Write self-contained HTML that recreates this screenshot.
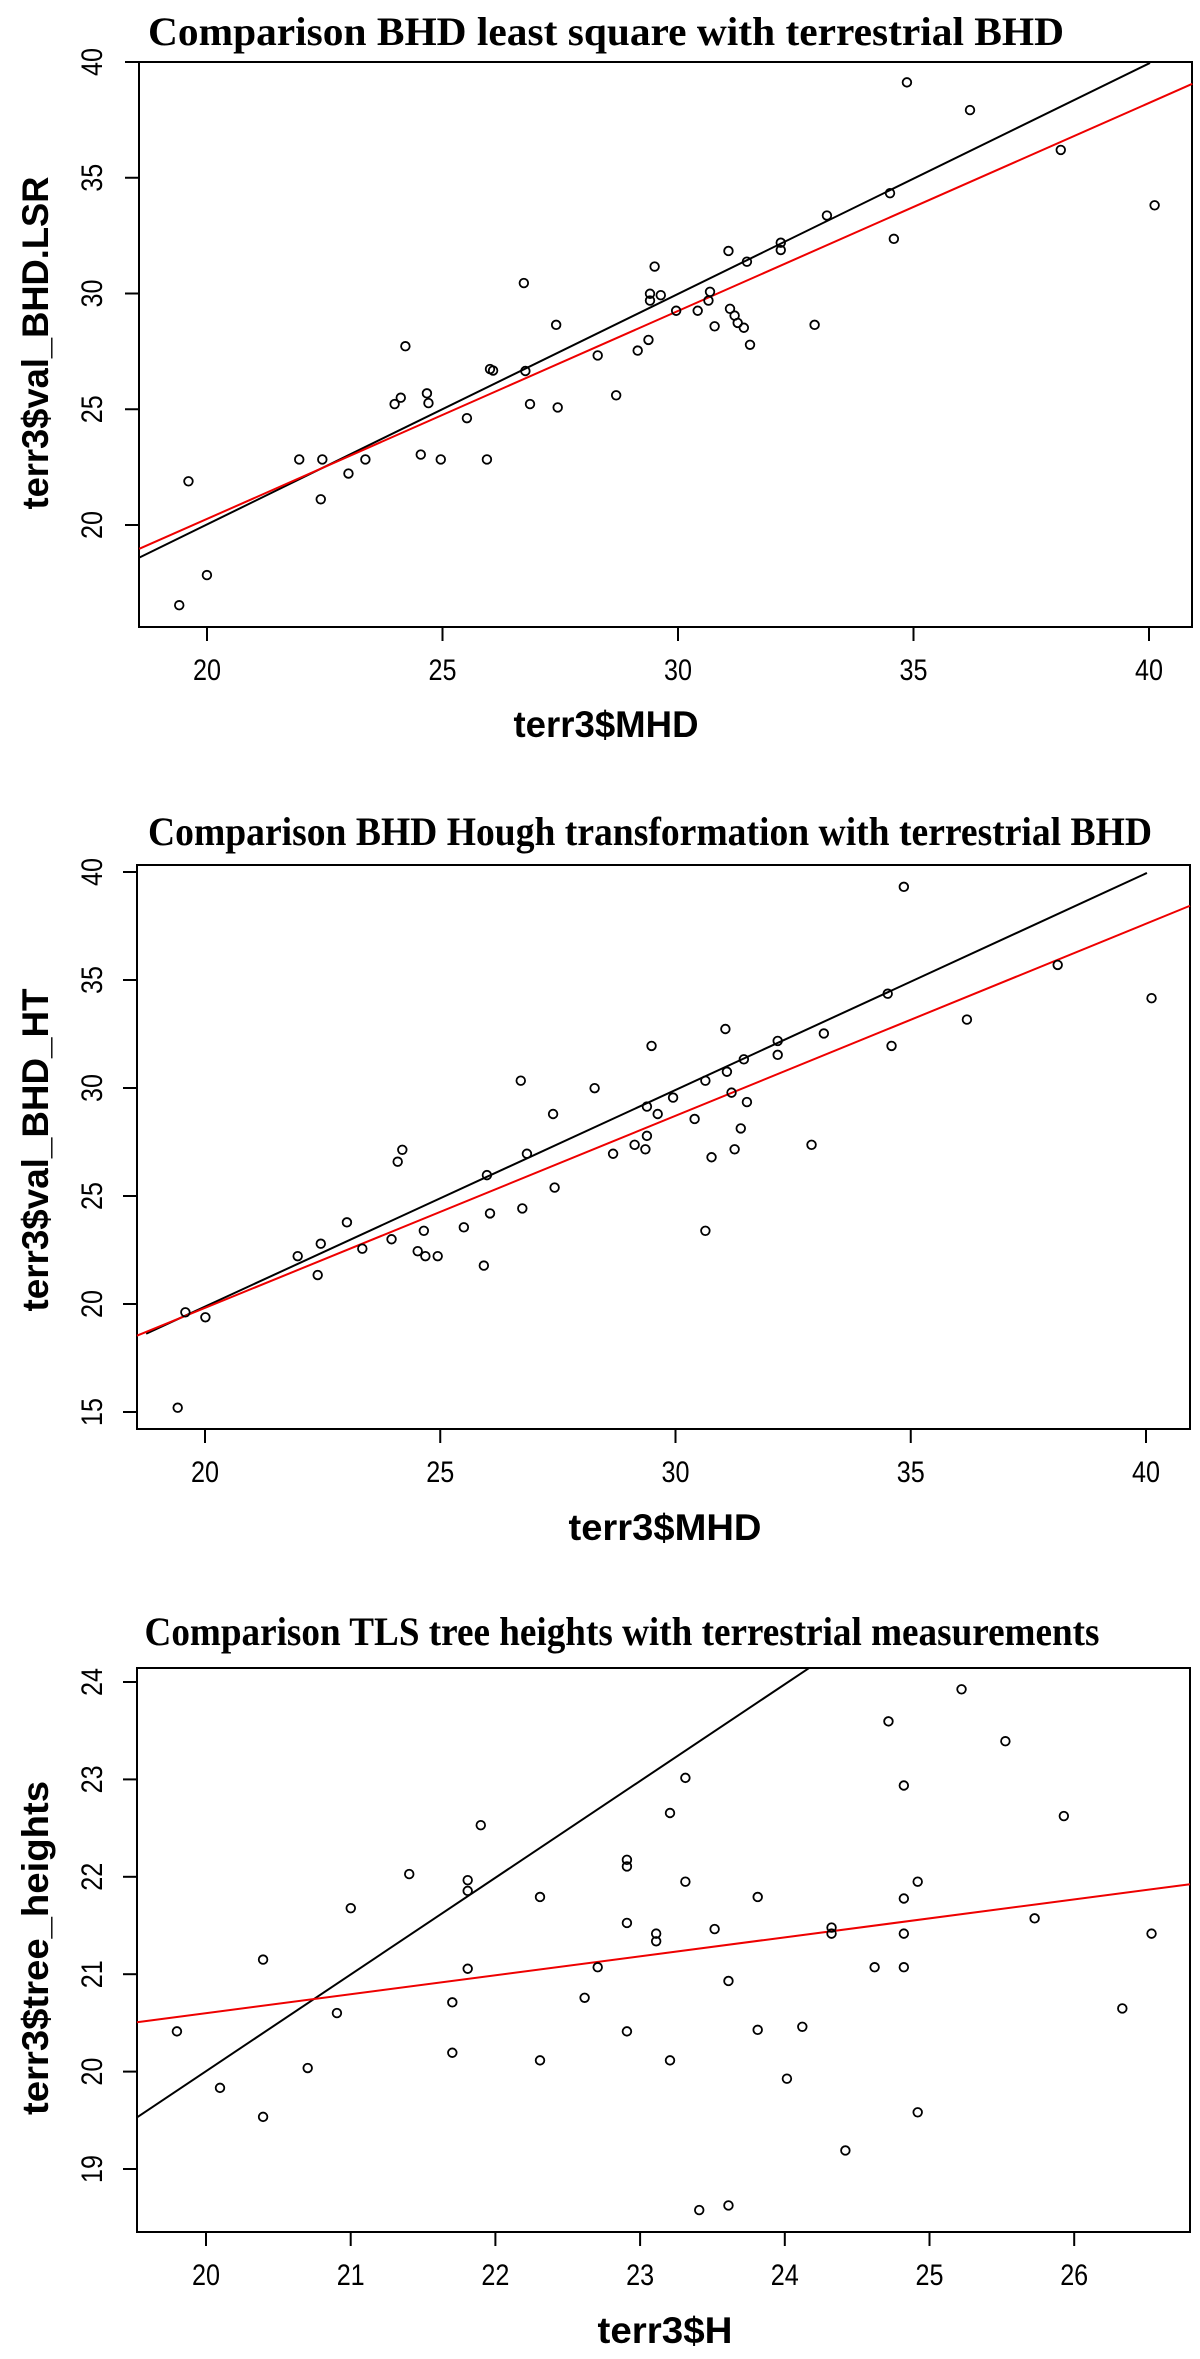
<!DOCTYPE html>
<html><head><meta charset="utf-8"><style>
html,body{margin:0;padding:0;background:#fff;}
svg{display:block;}
.t{font-family:"Liberation Serif",serif;font-weight:bold;font-size:40px;}
.tk{font-family:"Liberation Sans",sans-serif;font-size:30px;}
.al{font-family:"Liberation Sans",sans-serif;font-weight:bold;font-size:37px;}
</style></head><body>
<svg id="s" width="1200" height="2359" viewBox="0 0 1200 2359" xmlns="http://www.w3.org/2000/svg">
<text class="t" x="606" y="45" text-anchor="middle" textLength="916" lengthAdjust="spacingAndGlyphs">Comparison BHD least square with terrestrial BHD</text>
<text class="t" x="650" y="845" text-anchor="middle" textLength="1004" lengthAdjust="spacingAndGlyphs">Comparison BHD Hough transformation with terrestrial BHD</text>
<text class="t" x="622" y="1645" text-anchor="middle" textLength="955" lengthAdjust="spacingAndGlyphs">Comparison TLS tree heights with terrestrial measurements</text>
<text class="al" x="606" y="737" text-anchor="middle" textLength="185" lengthAdjust="spacingAndGlyphs">terr3$MHD</text>
<text class="al" x="665" y="1540" text-anchor="middle" textLength="193" lengthAdjust="spacingAndGlyphs">terr3$MHD</text>
<text class="al" x="665" y="2343" text-anchor="middle" textLength="135" lengthAdjust="spacingAndGlyphs">terr3$H</text>
<text class="al" transform="translate(48,343) rotate(-90)" text-anchor="middle" textLength="333" lengthAdjust="spacingAndGlyphs">terr3$val_BHD.LSR</text>
<text class="al" transform="translate(48,1150) rotate(-90)" text-anchor="middle" textLength="323" lengthAdjust="spacingAndGlyphs">terr3$val_BHD_HT</text>
<text class="al" transform="translate(48,1948) rotate(-90)" text-anchor="middle" textLength="334" lengthAdjust="spacingAndGlyphs">terr3$tree_heights</text>
<g id="g"></g>
</svg>
<script>
var NS="http://www.w3.org/2000/svg",g=document.getElementById("g");
function el(n,a,txt){var e=document.createElementNS(NS,n);for(var k in a)e.setAttribute(k,a[k]);if(txt)e.textContent=txt;g.appendChild(e);return e;}
function plot(P){
 el("rect",{x:P.l,y:P.t,width:P.r-P.l,height:P.b-P.t,fill:"none",stroke:"#000","stroke-width":2});
 P.xt.forEach(function(v){var x=P.x0+(v-P.xv0)*P.xs;
  el("line",{x1:x,y1:P.b,x2:x,y2:P.b+14,stroke:"#000","stroke-width":2});
  el("text",{x:x,y:P.tb,"text-anchor":"middle","class":"tk",textLength:28,lengthAdjust:"spacingAndGlyphs"},String(v));});
 P.yt.forEach(function(v){var y=P.y0-(v-P.yv0)*P.ys;
  el("line",{x1:P.l-14,y1:y,x2:P.l,y2:y,stroke:"#000","stroke-width":2});
  el("text",{transform:"translate(102,"+y+") rotate(-90)","text-anchor":"middle","class":"tk",textLength:28,lengthAdjust:"spacingAndGlyphs"},String(v));});
 P.lines.forEach(function(L){el("line",{x1:L[0]/1.3,y1:P.oy+L[1]/P.fy,x2:L[2]/1.3,y2:P.oy+L[3]/P.fy,stroke:L[4],"stroke-width":2});});
 P.pts.forEach(function(p){el("circle",{cx:p[0]/1.3,cy:P.oy+p[1]/P.fy,r:4.3,fill:"none",stroke:"#000","stroke-width":1.8});});
}
plot({l:139,r:1192,t:62,b:627,tb:680,x0:207,xv0:20,xs:47.1,xt:[20,25,30,35,40],y0:525,yv0:20,ys:23.15,yt:[20,25,30,35,40],oy:-1.2,fy:2.058,
 lines:[[181,1150,1495,132,"#000"],[181,1132,1550,175,"#e00"]],
 pts:[[1179,172],[1261,229],[1379,311],[1501,425],[1157,400],[1162,494],[1075,446],[1015,502],[1015,517],[971,541],[947,519],[851,551],[845,607],[845,621],[859,610],[923,603],[921,621],[879,642],[907,642],[949,638],[955,652],[959,667],[967,677],[929,674],[975,712],[1059,671],[843,702],[829,724],[777,734],[801,816],[723,671],[681,585],[683,766],[637,762],[641,765],[689,834],[725,841],[527,715],[521,821],[513,834],[555,812],[557,832],[607,863],[547,938],[573,948],[633,948],[475,948],[453,977],[419,948],[389,948],[417,1030],[245,993],[269,1186],[233,1248]]});
plot({l:137,r:1190,t:865,b:1429,tb:1482,x0:205,xv0:20,xs:47.05,xt:[20,25,30,35,40],y0:872,yv0:40,ys:21.6,yt:[15,20,25,30,35,40],oy:780.5,fy:2.012,
 lines:[[190,1113,1491,186,"#000"],[178,1117,1547,252,"#e00"]],
 pts:[[1175,214],[1375,371],[1497,438],[1154,429],[1257,481],[1159,534],[1071,509],[1011,524],[1011,552],[943,500],[967,561],[847,534],[917,604],[945,586],[951,628],[875,638],[971,647],[841,656],[855,671],[903,681],[963,700],[841,715],[825,733],[839,742],[955,742],[1055,733],[925,758],[797,751],[773,619],[677,604],[719,671],[685,751],[721,819],[633,794],[637,871],[679,861],[917,906],[629,976],[603,899],[551,906],[543,947],[553,957],[569,957],[509,923],[523,743],[517,767],[451,889],[471,942],[417,932],[387,957],[413,995],[241,1070],[267,1080],[231,1262]]});
plot({l:137,r:1190,t:1668,b:2232,tb:2285,x0:206,xv0:20,xs:144.7,xt:[20,21,22,23,24,25,26],y0:2169,yv0:19,ys:97.4,yt:[19,20,21,22,23,24],oy:1560,fy:1.9645,
 lines:[[178,1095,1052,212,"#000"],[178,908,1547,637,"#e00"]],
 pts:[[1250,254],[1155,317],[1307,356],[891,428],[1175,443],[871,497],[625,521],[1383,503],[532,617],[815,589],[815,602],[608,629],[608,650],[891,632],[1193,632],[702,662],[985,662],[1175,665],[456,684],[1345,704],[815,713],[929,725],[853,734],[853,749],[1081,722],[1081,734],[1175,734],[1497,734],[342,785],[608,803],[777,800],[1137,800],[1175,800],[947,827],[588,869],[760,860],[438,890],[1459,881],[230,926],[815,926],[985,923],[1043,917],[588,968],[702,983],[871,983],[400,998],[286,1037],[1023,1019],[342,1094],[1193,1085],[1099,1160],[909,1277],[947,1268]]});
</script>
</body></html>
